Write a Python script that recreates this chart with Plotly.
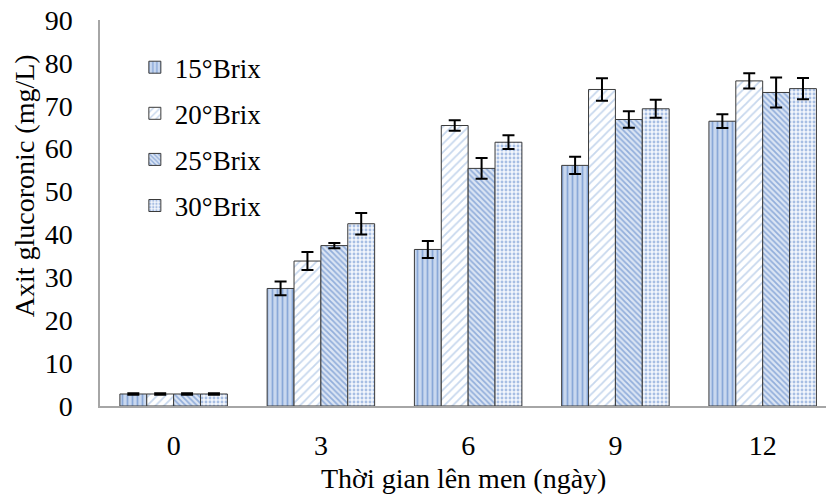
import plotly.graph_objects as go

# Fermentation time (days) and the sugar levels compared
days = ["0", "3", "6", "9", "12"]
series_names = ["15°Brix", "20°Brix", "25°Brix", "30°Brix"]

# Glucuronic acid content (mg/L) for each sugar level
brix15 = [2.8, 27.4, 36.5, 56.1, 66.4]
brix20 = [2.8, 33.8, 65.4, 73.8, 75.8]
brix25 = [2.8, 37.4, 55.4, 66.8, 73.1]
brix30 = [2.8, 42.5, 61.5, 69.3, 74.0]

# Standard deviations
err15 = [0.2, 1.6, 2.0, 2.0, 1.6]
err20 = [0.2, 2.1, 1.2, 2.6, 1.8]
err25 = [0.2, 0.6, 2.4, 1.9, 3.5]
err30 = [0.2, 2.5, 1.6, 2.1, 2.5]

values = [brix15, brix20, brix25, brix30]
errors = [err15, err20, err25, err30]

patterns = [
    dict(shape="|", fgcolor="#4a78c2", bgcolor="#c9d8ef", size=5, solidity=0.35),
    dict(shape="/", fgcolor="#8fb0dc", bgcolor="#ffffff", size=6, solidity=0.3),
    dict(shape="\\", fgcolor="#4a78c2", bgcolor="#dbe5f4", size=4, solidity=0.45),
    dict(shape=".", fgcolor="#5b86c9", bgcolor="#f2f6fc", size=4, solidity=0.4),
]

x_pos = list(range(len(days)))
font_family = "Liberation Serif, Times New Roman, serif"

fig = go.Figure()
for i, name in enumerate(series_names):
    fig.add_trace(go.Bar(
        x=x_pos,
        y=values[i],
        name=name,
        legendgroup=name,
        marker=dict(pattern=patterns[i], color=patterns[i]["bgcolor"],
                    line=dict(color="#3a3a3a", width=1)),
        error_y=dict(type="data", array=errors[i], visible=True,
                     color="#000000", thickness=2, width=6),
    ))

fig.update_layout(
    width=826, height=495,
    barmode="group", bargap=0.27, bargroupgap=0,
    plot_bgcolor="white", paper_bgcolor="white",
    margin=dict(l=100, r=0, t=20, b=89),
    font=dict(family=font_family, size=28, color="#000000"),
    legend=dict(x=0.048, y=0.94, xanchor="left", yanchor="top",
                traceorder="grouped", tracegroupgap=8,
                font=dict(family=font_family, size=27),
                bgcolor="rgba(0,0,0,0)"),
    xaxis=dict(
        tickmode="array", tickvals=x_pos, ticktext=days,
        range=[-0.5, 4.43],
        showline=True, linecolor="#a6a6a6", linewidth=1.5,
        ticks="", showgrid=False, zeroline=False,
        ticklabelstandoff=14,
        tickfont=dict(family=font_family, size=28),
    ),
    yaxis=dict(
        range=[0, 90], dtick=10,
        showline=True, linecolor="#a6a6a6", linewidth=1.5,
        ticks="", showgrid=False, zeroline=False,
        ticklabelstandoff=20,
        tickfont=dict(family=font_family, size=28),
    ),
    annotations=[
        dict(text="Thời gian lên men (ngày)", xref="paper", yref="paper",
             x=0.5, y=-0.187, xanchor="center", yanchor="middle",
             showarrow=False, font=dict(family=font_family, size=28)),
        dict(text="Axit glucoronic (mg/L)", xref="paper", yref="paper",
             x=-0.103, y=0.57, xanchor="center", yanchor="middle",
             textangle=-90, showarrow=False,
             font=dict(family=font_family, size=28)),
    ],
)

fig.write_html("out.html")
